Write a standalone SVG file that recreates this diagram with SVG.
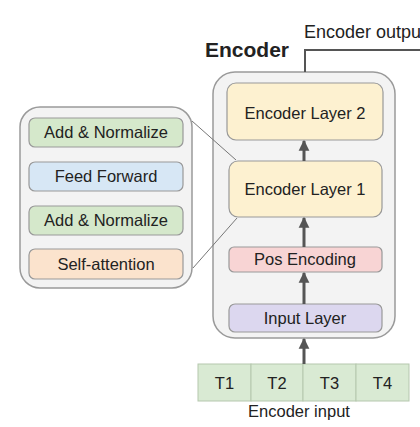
<svg xmlns="http://www.w3.org/2000/svg" width="420" height="427" viewBox="0 0 420 427">
<defs>
<style>
text{font-family:"Liberation Sans",Arial,sans-serif;font-size:16.5px;fill:#222;text-anchor:middle}
.cont{fill:#f3f3f3;stroke:#9a9a9a;stroke-width:1.5}
.box{stroke:#999;stroke-width:1.2}
.yel{fill:#fdf1d0}.pink{fill:#f8d4d4}.pur{fill:#dcd7ef}.grn{fill:#d5e8cb}.blu{fill:#d7e7f5}.org{fill:#fbe3cd}
.tok{fill:#d9ead3;stroke:#b5c7ae;stroke-width:1}
.arr{stroke:#555;stroke-width:3;fill:none}
.thin{stroke:#777;stroke-width:1;fill:none}
</style>
<marker id="ah" viewBox="0 0 10 10" refX="9" refY="5" markerWidth="3.6" markerHeight="4" orient="auto" markerUnits="strokeWidth">
<path d="M0,0L10,5L0,10z" fill="#555"/>
</marker>
</defs>
<rect width="420" height="427" fill="#fff"/>
<text x="205" y="57" style="font-weight:bold;font-size:21px;text-anchor:start">Encoder</text>
<text x="304" y="38" style="text-anchor:start;font-size:18px">Encoder output</text>
<g id="encoder">
<rect class="cont" x="213" y="72" width="182" height="266" rx="22"/>
</g>
<g id="detail">
<rect class="cont" x="20" y="107" width="172" height="181" rx="20"/>
</g>
<g id="enc2"><rect class="box yel" x="227" y="83" width="156" height="57" rx="9"/><text x="305" y="119">Encoder Layer 2</text></g>
<g id="enc1"><rect class="box yel" x="229" y="161" width="153" height="56" rx="9"/><text x="305" y="195">Encoder Layer 1</text></g>
<g id="pos"><rect class="box pink" x="229" y="247" width="153" height="25" rx="5"/><text x="305" y="265">Pos Encoding</text></g>
<g id="input"><rect class="box pur" x="229" y="304" width="153" height="28" rx="6"/><text x="305" y="324">Input Layer</text></g>
<g id="addnorm1"><rect class="box grn" x="29" y="118" width="154" height="29" rx="6"/><text x="106" y="138">Add &amp; Normalize</text></g>
<g id="ff"><rect class="box blu" x="29" y="162" width="154" height="29" rx="6"/><text x="106" y="182">Feed Forward</text></g>
<g id="addnorm2"><rect class="box grn" x="29" y="206" width="154" height="29" rx="6"/><text x="106" y="226">Add &amp; Normalize</text></g>
<g id="selfatt"><rect class="box org" x="29" y="249" width="154" height="30" rx="6"/><text x="106" y="270">Self-attention</text></g>
<g id="tokens">
<rect class="tok" x="198" y="364" width="53" height="37"/>
<rect class="tok" x="251" y="364" width="52" height="37"/>
<rect class="tok" x="303" y="364" width="53" height="37"/>
<rect class="tok" x="356" y="364" width="53" height="37"/>
<text x="224.5" y="389">T1</text>
<text x="277" y="389">T2</text>
<text x="329.5" y="389">T3</text>
<text x="382.5" y="389">T4</text>
</g>
<text x="299" y="417">Encoder input</text>
<g id="connectors">
<path class="arr" d="M304,161V141" marker-end="url(#ah)"/>
<path class="arr" d="M304,247V218" marker-end="url(#ah)"/>
<path class="arr" d="M304,304V273" marker-end="url(#ah)"/>
<path class="arr" d="M304,364V339" marker-end="url(#ah)"/>
<path d="M305,72V50H420" fill="none" stroke="#555" stroke-width="2"/>
<path class="thin" d="M192,121L236,160"/>
<path class="thin" d="M193,268L237,218"/>
</g>
</svg>
